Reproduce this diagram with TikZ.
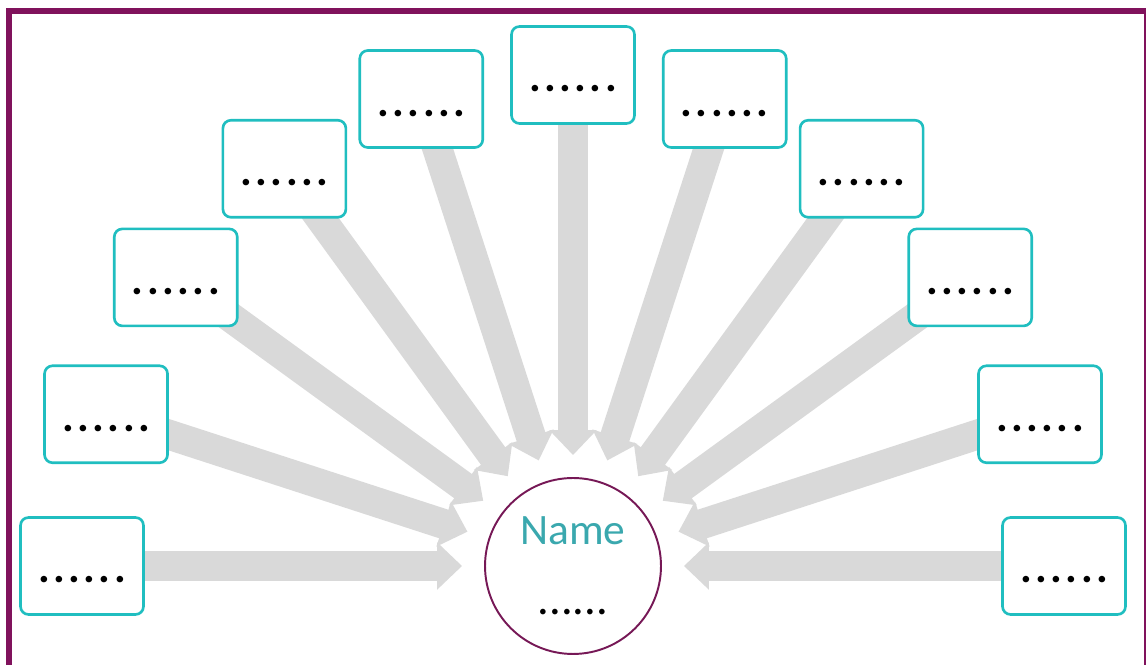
\documentclass[tikz,border=0pt]{standalone}
\usepackage{fontspec}
\setmainfont{Carlito}
\newfontfamily\dotfont[LetterSpace=8]{Carlito}
\usepackage{xcolor}
\usepackage{tikz}
\usetikzlibrary{arrows.meta,positioning,calc,backgrounds}

\definecolor{frameplum}{RGB}{128,18,92}
\definecolor{hubplum}{RGB}{118,24,86}
\definecolor{boxteal}{RGB}{32,190,192}
\definecolor{nameteal}{RGB}{58,168,174}
\definecolor{feedgray}{RGB}{217,217,217}

\begin{document}
\begin{tikzpicture}[
  x=0.02cm, y=0.02cm,
  item/.style={draw=boxteal, fill=white, rounded corners=0.16cm, line width=1.5pt, minimum width=2.46cm, minimum height=1.94cm, inner sep=0pt, text height=0.68cm, text depth=0pt, font=\dotfont\bfseries\fontsize{25}{27}\selectfont},
  hubnode/.style={circle, draw=hubplum, fill=white, line width=1.1pt, minimum size=3.52cm, inner sep=0pt},
  feed/.style={-{Triangle[length=0.5cm, width=0.92cm]}, draw=feedgray, line width=0.6cm, shorten >=0.44cm},
]

\useasboundingbox (0,0) rectangle (1146,665);
\clip (0,0) rectangle (1146,665);

% outer frame, open at the bottom and the right
\draw[frameplum, line width=0.12cm] (9,654) rectangle (1147,-10);

\node[hubnode] (hub) at (573,99) {};
\node[font=\fontsize{24.7}{26}\selectfont, text=nameteal, anchor=base] (hubname) at ([yshift=0.42cm]hub.center) {Name};
\node[font=\fontsize{26.5}{28}\selectfont, anchor=base] (hubdots) at ([yshift=-0.98cm]hub.center) {......};

% sources on a half ring round the hub
\node[item] (src1) at ($(hub)+(180:491)$) {......};
\node[item] (src2) at ($(hub)+(162:491)$) {......};
\node[item] (src3) at ($(hub)+(144:491)$) {......};
\node[item] (src4) at ($(hub)+(126:491)$) {......};
\node[item] (src5) at ($(hub)+(108:491)$) {......};
\node[item] (src6) at ($(hub)+(90:491)$) {......};
\node[item] (src7) at ($(hub)+(72:491)$) {......};
\node[item] (src8) at ($(hub)+(54:491)$) {......};
\node[item] (src9) at ($(hub)+(36:491)$) {......};
\node[item] (src10) at ($(hub)+(18:491)$) {......};
\node[item] (src11) at ($(hub)+(0:491)$) {......};

\begin{scope}[on background layer]
\draw[feed] (src1.center) -- (hub);
\draw[feed] (src2.center) -- (hub);
\draw[feed] (src3.center) -- (hub);
\draw[feed] (src4.center) -- (hub);
\draw[feed] (src5.center) -- (hub);
\draw[feed] (src6.center) -- (hub);
\draw[feed] (src7.center) -- (hub);
\draw[feed] (src8.center) -- (hub);
\draw[feed] (src9.center) -- (hub);
\draw[feed] (src10.center) -- (hub);
\draw[feed] (src11.center) -- (hub);
\end{scope}

\end{tikzpicture}
\end{document}
